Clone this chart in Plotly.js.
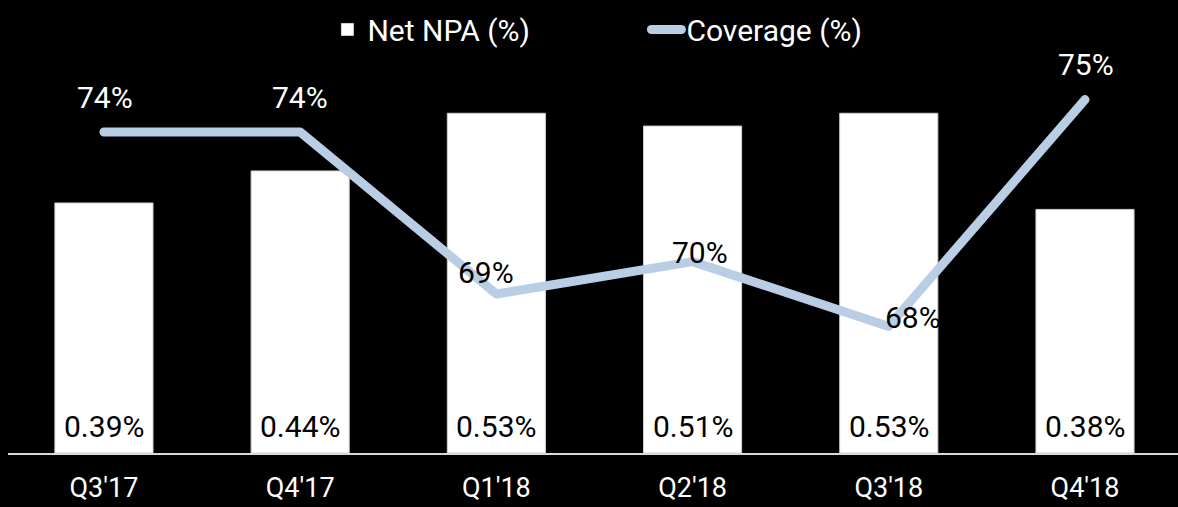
<!DOCTYPE html>
<html>
<head>
<meta charset="utf-8">
<script src="https://cdn.plot.ly/plotly-3.0.1.min.js"></script>
<style>
html,body{margin:0;padding:0;background:#000;overflow:hidden;}
#chart{width:1178px;height:507px;}
</style>
</head>
<body>
<div id="chart"></div>
<script>
// ---- data ----
const categories = ["Q3'17", "Q4'17", "Q1'18", "Q2'18", "Q3'18", "Q4'18"];
const netNPA = [0.39, 0.44, 0.53, 0.51, 0.53, 0.38];
const coverage = [74, 74, 69, 70, 68, 75];
const netNPALabels = ["0.39%", "0.44%", "0.53%", "0.51%", "0.53%", "0.38%"];
const coverageLabels = ["74%", "74%", "69%", "70%", "68%", "75%"];

// ---- label placement/style (not data) ----
const covShiftX = [1, 0, -10, 7, 24, 1];
const covShiftY = [35, 35, 22, 9, 9, 35];
const covColor = ["#ffffff", "#ffffff", "#000000", "#000000", "#000000", "#ffffff"];

const FONT = "Roboto, 'Liberation Sans', sans-serif";

const traces = [
  {
    type: "bar",
    name: "Net NPA (%)",
    x: categories,
    y: netNPA,
    width: 0.5,
    marker: {color: "#ffffff", line: {color: "#d0d0d0", width: 1}},
    hoverinfo: "skip"
  },
  {
    type: "scatter",
    mode: "lines",
    name: "Coverage (%)",
    x: categories,
    y: coverage,
    yaxis: "y2",
    line: {color: "#B9CDE5", width: 9},
    hoverinfo: "skip"
  }
];

const annotations = [];
categories.forEach((c, i) => {
  annotations.push({
    x: c, y: 0, xref: "x", yref: "y",
    text: netNPALabels[i], showarrow: false,
    yanchor: "middle", yshift: 27,
    font: {family: FONT, size: 30, color: "#000000"}
  });
  annotations.push({
    x: c, y: coverage[i], xref: "x", yref: "y2",
    text: coverageLabels[i], showarrow: false,
    yanchor: "middle", xshift: covShiftX[i], yshift: covShiftY[i],
    font: {family: FONT, size: 30, color: covColor[i]}
  });
});

const layout = {
  width: 1178, height: 507,
  paper_bgcolor: "#000000", plot_bgcolor: "#000000",
  margin: {l: 8, r: 0, t: 0, b: 54},
  font: {family: FONT, color: "#ffffff", size: 28},
  bargap: 0.5,
  showlegend: true,
  legend: {
    orientation: "h",
    x: 0.273, xanchor: "left",
    y: 0.935, yanchor: "middle",
    bgcolor: "rgba(0,0,0,0)",
    font: {family: FONT, size: 30, color: "#ffffff"},
    entrywidth: 274, entrywidthmode: "pixels",
    traceorder: "normal"
  },
  xaxis: {
    type: "category",
    range: [-0.489, 5.474],
    showgrid: false, zeroline: false,
    showline: true, linecolor: "#d9d9d9", linewidth: 1.5,
    ticks: "",
    ticklabelstandoff: 10,
    tickfont: {family: FONT, size: 27, color: "#ffffff"},
    fixedrange: true
  },
  yaxis: {
    range: [0, 0.7067],
    visible: false,
    fixedrange: true
  },
  yaxis2: {
    range: [64.093, 78.074],
    overlaying: "y",
    side: "right",
    visible: false,
    fixedrange: true
  },
  annotations: annotations
};

Plotly.newPlot("chart", traces, layout, {displayModeBar: false, staticPlot: true}).then(() => {
  document.querySelectorAll(".scatterlayer .js-line, .legend .js-line").forEach(p => {
    p.style.strokeLinecap = "round";
    p.style.strokeLinejoin = "round";
  });
});
</script>
</body>
</html>
